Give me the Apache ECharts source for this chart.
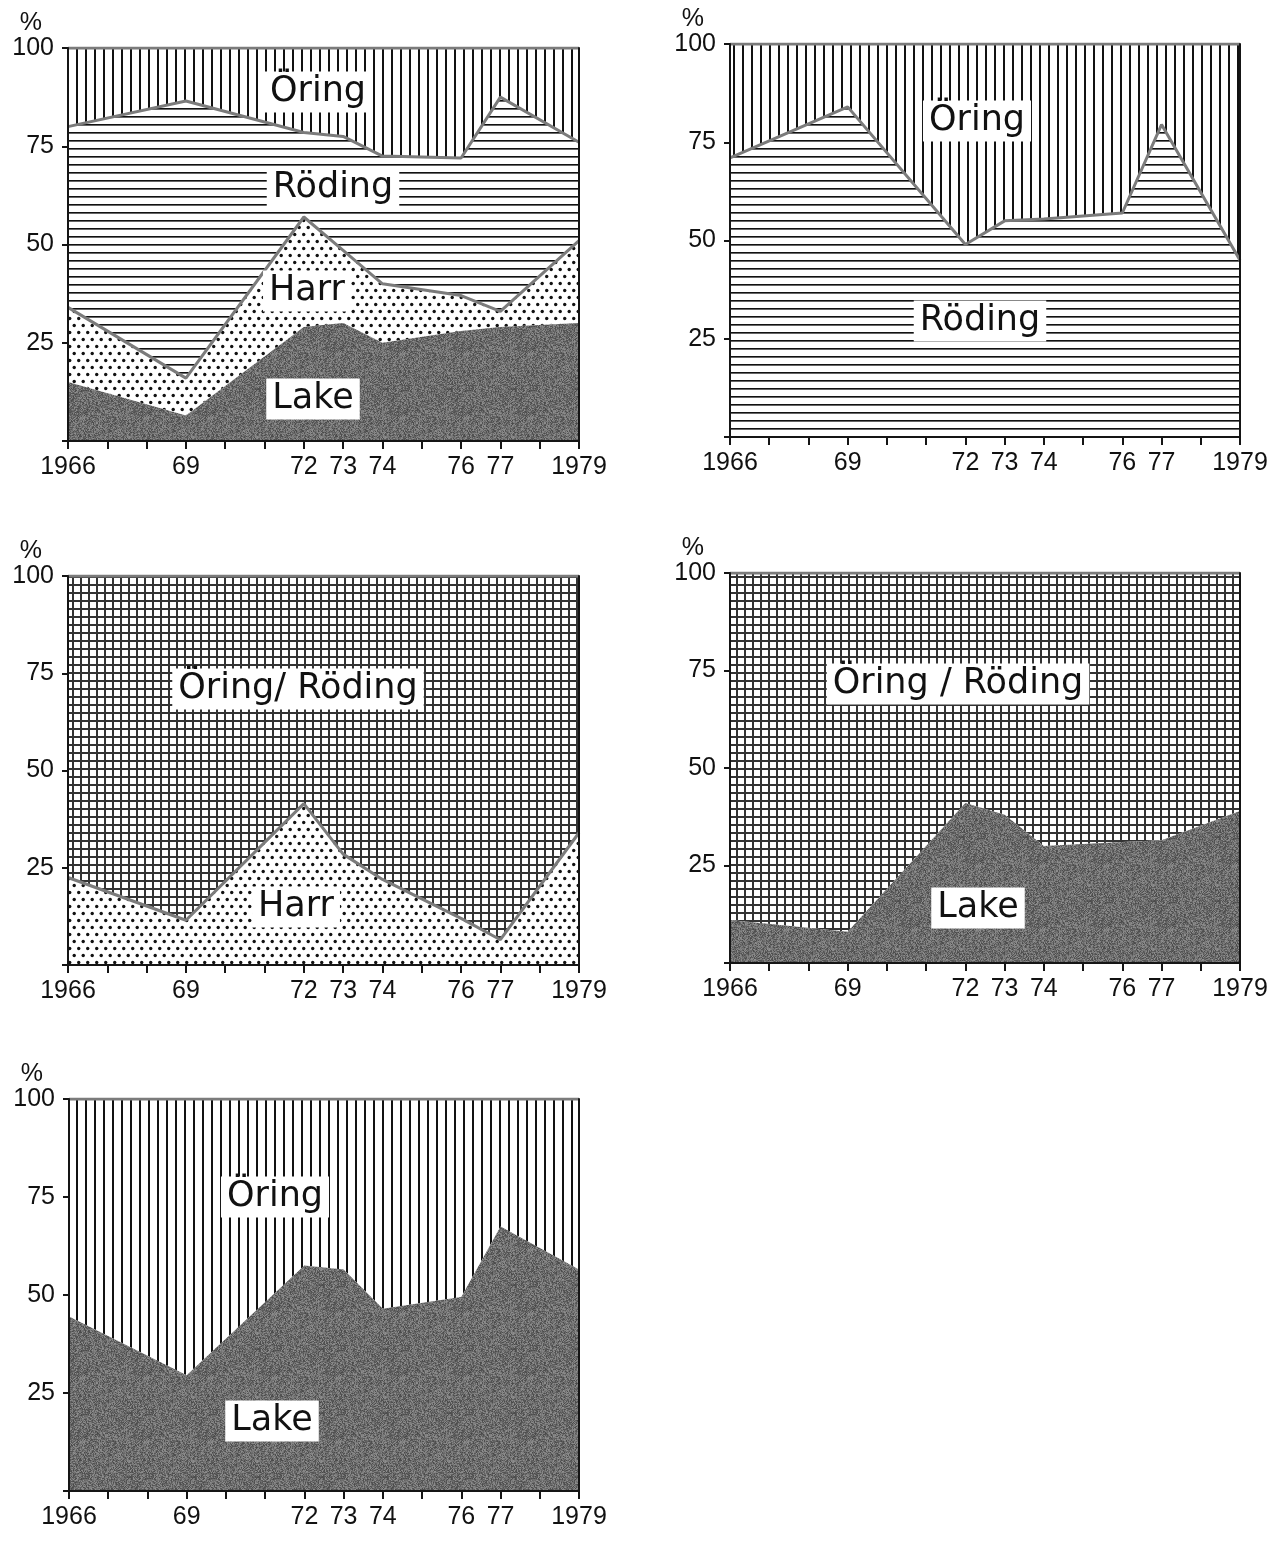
<!DOCTYPE html>
<html><head><meta charset="utf-8">
<script src="https://cdn.jsdelivr.net/npm/echarts@6/dist/echarts.min.js"></script>
<style>html,body{margin:0;padding:0;background:#fff}#chart{width:1280px;height:1541px}</style>
</head><body><div id="chart"></div>
<script>
// ---- data ----
const years = [1966, 1969, 1972, 1973, 1974, 1976, 1977, 1979];
const yearLabels = ['1966', '69', '72', '73', '74', '76', '77', '1979'];
const percentLabels = ['', '25', '50', '75', '100'];

// Panel 1 (shares, %)
const p1Lake   = [15, 6.5, 29, 30, 25, 28, 29, 30];
const p1Harr   = [19, 9.5, 28, 18.5, 15, 9, 4, 21];
const p1Roding = [46, 70.5, 21.5, 29, 32.5, 35, 54.5, 25];
const p1Oring  = [20, 13.5, 21.5, 22.5, 27.5, 28, 12.5, 24];
// Panel 2
const p2Roding = [71, 84, 49, 55, 55.5, 57, 79.5, 45];
const p2Oring  = [29, 16, 51, 45, 44.5, 43, 20.5, 55];
// Panel 3
const p3Harr        = [22.5, 11.5, 41.5, 28.5, 22, 12, 6.5, 34];
const p3OringRoding = [77.5, 88.5, 58.5, 71.5, 78, 88, 93.5, 66];
// Panel 4
const p4Lake        = [11, 8, 41, 38, 30, 31, 31.5, 39];
const p4OringRoding = [89, 92, 59, 62, 70, 69, 68.5, 61];
// Panel 5
const p5Lake  = [44.5, 29.5, 57.5, 56.5, 46.5, 49.5, 67.5, 56.5];
const p5Oring = [55.5, 70.5, 42.5, 43.5, 53.5, 50.5, 32.5, 43.5];

// ---- fill patterns ----
function tile(w, h, draw) {
  const c = document.createElement('canvas');
  c.width = w; c.height = h;
  const g = c.getContext('2d');
  g.fillStyle = '#fff'; g.fillRect(0, 0, w, h);
  draw(g, w, h);
  return { image: c, repeat: 'repeat' };
}
const fillVertical = tile(9, 9, g => { g.fillStyle = '#111'; g.fillRect(4, 0, 2, 9); });
const fillHorizontal = tile(9, 8, g => { g.fillStyle = '#111'; g.fillRect(0, 4, 9, 1); g.fillStyle = '#666'; g.fillRect(0, 5, 9, 1); });
const fillDots = tile(9, 14, g => {
  g.fillStyle = '#111';
  g.beginPath(); g.arc(2.2, 3.5, 1.7, 0, Math.PI * 2); g.fill();
  g.beginPath(); g.arc(6.7, 10.5, 1.7, 0, Math.PI * 2); g.fill();
});
const fillGrid = tile(8, 8, g => { g.fillStyle = '#333'; g.fillRect(0, 0, 8, 2); g.fillRect(0, 0, 2, 8); });
const fillLake = tile(64, 64, (g, w, h) => {
  const img = g.getImageData(0, 0, w, h);
  for (let y = 0; y < h; y++) for (let x = 0; x < w; x++) {
    let n = Math.imul(x, 374761393) + Math.imul(y, 668265263);
    n = Math.imul(n ^ (n >>> 13), 1274126177);
    const t = ((n ^ (n >>> 16)) >>> 0) / 4294967295;
    const v = Math.round(72 + t * 72);
    const i = (y * w + x) * 4;
    img.data[i] = img.data[i + 1] = img.data[i + 2] = v; img.data[i + 3] = 255;
  }
  g.putImageData(img, 0, 0);
});

// ---- layout ----
const grids = [
  { left: 68,  top: 48,   width: 511, height: 393 },
  { left: 730, top: 44,   width: 510, height: 393 },
  { left: 68,  top: 576,  width: 511, height: 389 },
  { left: 730, top: 573,  width: 510, height: 390 },
  { left: 69,  top: 1099, width: 510, height: 392 }
];

const axisColor = '#151515';
const xAxes = grids.map((_, i) => ({
  gridIndex: i, type: 'value', min: 1966, max: 1979, interval: 1, z: 10,
  axisLine: { show: true, onZero: false, lineStyle: { color: axisColor, width: 2 } },
  axisTick: { show: true, length: 8, lineStyle: { color: axisColor, width: 2 } },
  axisLabel: {
    color: '#111', fontSize: 25, fontFamily: 'Liberation Sans', margin: 14,
    formatter: v => { const k = years.indexOf(v); return k >= 0 ? yearLabels[k] : ''; }
  },
  splitLine: { show: false }
}));
const yAxesLeft = grids.map((_, i) => ({
  gridIndex: i, type: 'value', min: 0, max: 100, interval: 25, z: 10,
  name: '%', nameLocation: 'end', nameGap: 12,
  nameTextStyle: { color: '#111', fontSize: 25, fontFamily: 'Liberation Sans', align: 'right', padding: [0, 26, 0, 0] },
  axisLine: { show: true, onZero: false, lineStyle: { color: axisColor, width: 2 } },
  axisTick: { show: true, length: 6, lineStyle: { color: axisColor, width: 2 } },
  axisLabel: {
    color: '#111', fontSize: 25, fontFamily: 'Liberation Sans', margin: 14,
    formatter: v => percentLabels[Math.round(v / 25)]
  },
  splitLine: { show: false }
}));
const yAxesRight = grids.map((_, i) => ({
  gridIndex: i, type: 'value', min: 0, max: 100, position: 'right', z: 10,
  axisLine: { show: true, onZero: false, lineStyle: { color: axisColor, width: 2 } },
  axisTick: { show: false }, axisLabel: { show: false }, splitLine: { show: false }
}));

// value first, year second, so that the stack runs on the % dimension
function area(name, values, gi, fill, z, withLine) {
  return {
    name, type: 'line', xAxisIndex: gi, yAxisIndex: gi, stack: 'panel' + gi, z,
    data: years.map((y, k) => [values[k], y]),
    encode: { x: 1, y: 0 },
    symbol: 'none', smooth: false, silent: true,
    areaStyle: { color: fill, opacity: 1 },
    lineStyle: withLine ? { color: '#7b7b7b', width: 3 } : { width: 0, opacity: 0 }
  };
}

const series = [
  area('Lake', p1Lake, 0, fillLake, 6, false),
  area('Harr', p1Harr, 0, fillDots, 5, true),
  area('Röding', p1Roding, 0, fillHorizontal, 4, true),
  area('Öring', p1Oring, 0, fillVertical, 3, true),

  area('Röding', p2Roding, 1, fillHorizontal, 4, true),
  area('Öring', p2Oring, 1, fillVertical, 3, true),

  area('Harr', p3Harr, 2, fillDots, 5, true),
  area('Öring/Röding', p3OringRoding, 2, fillGrid, 4, true),

  area('Lake', p4Lake, 3, fillLake, 6, false),
  area('Öring/Röding', p4OringRoding, 3, fillGrid, 4, true),

  area('Lake', p5Lake, 4, fillLake, 6, false),
  area('Öring', p5Oring, 4, fillVertical, 3, true)
];

function tag(text, x, y) {
  return {
    type: 'text', x, y, z: 100, silent: true,
    style: {
      text, font: '35px "DejaVu Sans"', fill: '#111', align: 'center', verticalAlign: 'middle',
      backgroundColor: '#fff', padding: [3, 6, 3, 6]
    }
  };
}

const chart = echarts.init(document.getElementById('chart'), null, { renderer: 'canvas' });
chart.setOption({
  animation: false,
  backgroundColor: '#fff',
  grid: grids,
  xAxis: xAxes,
  yAxis: yAxesLeft.concat(yAxesRight),
  series,
  graphic: [
    tag('Öring', 318, 92), tag('Röding', 333, 188), tag('Harr', 307, 291), tag('Lake', 313, 399),
    tag('Öring', 977, 121), tag('Röding', 980, 321),
    tag('Öring/ Röding', 298, 689), tag('Harr', 296, 907),
    tag('Öring / Röding', 958, 684), tag('Lake', 978, 908),
    tag('Öring', 275, 1197), tag('Lake', 272, 1421)
  ]
});
</script></body></html>
